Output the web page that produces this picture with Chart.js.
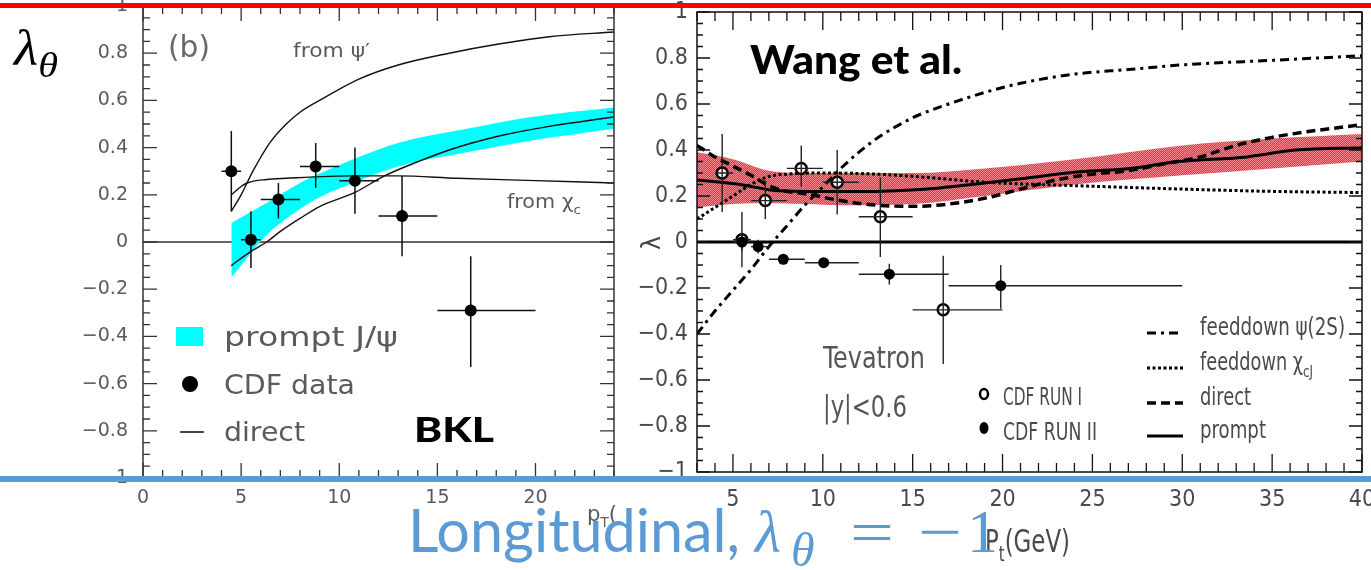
<!DOCTYPE html>
<html>
<head>
<meta charset="utf-8">
<script src="https://cdn.jsdelivr.net/npm/chart.js"></script>
<style>
  html, body { margin: 0; padding: 0; background: #fff; }
  body { width: 1371px; height: 570px; position: relative; overflow: hidden; }
  canvas { position: absolute; left: 0; top: 0; }
  .bar { position: absolute; left: 0; width: 1371px; z-index: 5; }
  #redBar { top: 3px; height: 5px; background: #ff0000; }
  #blueBar { top: 476px; height: 6px; background: #5b9bd5; }
  .txt { position: absolute; white-space: nowrap; transform-origin: 0 0; z-index: 6; }
  .txt sub { font-size: 0.72em; vertical-align: -0.32em; line-height: 0; }
  #lamLabel { left: 14px; top: 23px; font: italic 50px 'Liberation Serif', serif; line-height: 1; color: #000; }
  #wangTitle { left: 750px; top: 39px; font: 900 40px Lato, sans-serif; line-height: 1; color: #000; }
  #bklTitle { left: 414px; top: 411px; font: 900 35px Lato, sans-serif; line-height: 1; color: #000; }
  #longText { left: 408px; top: 499px; font: 60px Lato, sans-serif; line-height: 1; color: #5b9bd5; }
  .m { font: 60px 'Liberation Serif', serif; line-height: 1; color: #5b9bd5; top: 502px; }
  #mLam { left: 755px; font-style: italic; }
  #mTheta { left: 791px; top: 526px; font-size: 48px; font-style: italic; }
  #mEq { left: 850px; }
  #mMinus { left: 918px; }
  #mOne { left: 967px; font-size: 62px; top: 500px; }
</style>
</head>
<body>
<canvas id="bklChart" width="1371" height="570"></canvas>
<canvas id="wangChart" width="1371" height="570"></canvas>
<div id="redBar" class="bar"></div>
<div id="blueBar" class="bar"></div>
<div id="lamLabel" class="txt">λ<sub>θ</sub></div>
<div id="wangTitle" class="txt">Wang et al.</div>
<div id="bklTitle" class="txt">BKL</div>
<div id="longText" class="txt">Longitudinal,</div>
<div id="mLam" class="txt m">λ</div>
<div id="mTheta" class="txt m">θ</div>
<div id="mEq" class="txt m">=</div>
<div id="mMinus" class="txt m">−</div>
<div id="mOne" class="txt m">1</div>
<script>
// ---- left panel (BKL) ----
const bklXTicks = [0, 5, 10, 15, 20];
const yTickValues = [-1, -0.8, -0.6, -0.4, -0.2, 0, 0.2, 0.4, 0.6, 0.8, 1];
const yTickLabels = ['−1', '−0.8', '−0.6', '−0.4', '−0.2', '0', '0.2', '0.4', '0.6', '0.8', '1'];

const cdfX = [4.5, 5.5, 6.9, 8.8, 10.8, 13.2, 16.7];
const cdfY = [0.30, 0.01, 0.18, 0.32, 0.26, 0.11, -0.29];
const cdfXLo = [4, 5, 6, 8, 10, 12, 15];
const cdfXHi = [5, 6, 8, 10, 12, 15, 20];
const cdfYLo = [0.13, -0.11, 0.10, 0.23, 0.12, -0.06, -0.53];
const cdfYHi = [0.47, 0.13, 0.25, 0.42, 0.40, 0.28, -0.06];

const psiPrimeX = [4.5, 5, 5.6, 6.46, 7.3, 8, 9, 11, 13, 15.6, 18.2, 20.7, 24];
const psiPrimeY = [0.13, 0.20, 0.30, 0.42, 0.50, 0.55, 0.60, 0.69, 0.75, 0.80, 0.84, 0.87, 0.89];
const chicX = [4.5, 5, 5.3, 6.3, 7.3, 10.7, 13, 16, 20, 24];
const chicY = [0.20, 0.235, 0.25, 0.265, 0.27, 0.28, 0.28, 0.27, 0.26, 0.25];
const bklDirectX = [4.5, 5.5, 6.3, 7, 8, 9, 10.8, 12.3, 14, 15.6, 18.2, 20.7, 24];
const bklDirectY = [-0.10, -0.04, 0.0, 0.045, 0.10, 0.15, 0.21, 0.28, 0.34, 0.39, 0.45, 0.49, 0.53];
const bklBandX = [4.5, 6.3, 8, 9, 11, 13, 16.5, 19.8, 24];
const bklBandHi = [0.08, 0.165, 0.25, 0.29, 0.36, 0.42, 0.48, 0.53, 0.57];
const bklBandLo = [-0.15, 0.03, 0.14, 0.19, 0.26, 0.32, 0.38, 0.43, 0.48];

// ---- right panel (Wang et al.) ----
const wangXTicks = [5, 10, 15, 20, 25, 30, 35, 40];

const run1X = [4.4, 5.5, 6.8, 8.8, 10.8, 13.2, 16.7];
const run1Y = [0.30, 0.01, 0.18, 0.32, 0.26, 0.11, -0.295];
const run1XLo = [4, 5, 6, 8, 10, 12, 15];
const run1XHi = [5, 6, 8, 10, 12, 15, 20];
const run1YLo = [0.13, -0.11, 0.10, 0.24, 0.12, -0.065, -0.53];
const run1YHi = [0.47, 0.13, 0.27, 0.42, 0.40, 0.28, -0.06];

const run2X = [5.5, 6.4, 7.8, 10.05, 13.7, 19.9];
const run2Y = [0.0, -0.02, -0.075, -0.09, -0.14, -0.19];
const run2XLo = [5, 6, 7, 9, 12, 17];
const run2XHi = [6, 7, 9, 12, 17, 30];
const run2YLo = [-0.04, -0.05, -0.095, -0.11, -0.185, -0.29];
const run2YHi = [0.04, 0.01, -0.055, -0.07, -0.095, -0.10];

const fdPsi2sX = [3, 4, 5, 6, 7, 8, 9, 10, 11, 12, 13, 15, 17, 19, 21, 24, 27, 30, 35, 40];
const fdPsi2sY = [-0.40, -0.30, -0.21, -0.12, -0.02, 0.07, 0.16, 0.24, 0.32, 0.39, 0.45, 0.54, 0.60, 0.65, 0.69, 0.73, 0.75, 0.77, 0.79, 0.81];
const fdChiX = [3, 4, 5, 6, 7, 8, 10, 13, 16, 19, 24, 30, 35, 40];
const fdChiY = [0.10, 0.15, 0.20, 0.25, 0.285, 0.295, 0.30, 0.295, 0.28, 0.26, 0.245, 0.23, 0.22, 0.215];
const wDirectX = [3, 4, 5, 6, 7, 8, 9, 11, 13, 15, 17, 19, 21, 23, 25, 27, 29, 31, 33, 35, 37, 40];
const wDirectY = [0.42, 0.37, 0.33, 0.29, 0.245, 0.22, 0.21, 0.18, 0.16, 0.155, 0.165, 0.19, 0.23, 0.27, 0.295, 0.31, 0.34, 0.37, 0.42, 0.455, 0.48, 0.51];
const promptX = [3, 5.4, 7.2, 9, 10.9, 13, 14.7, 16.5, 18.3, 21, 24.3, 27.1, 29.8, 33.6, 36.3, 40];
const promptY = [0.27, 0.25, 0.225, 0.22, 0.22, 0.22, 0.225, 0.235, 0.25, 0.275, 0.305, 0.32, 0.35, 0.37, 0.40, 0.41];
const wBandX = [3, 5, 7, 9, 11, 15, 19, 24, 30, 35, 40];
const wBandHi = [0.39, 0.36, 0.31, 0.30, 0.30, 0.30, 0.32, 0.36, 0.42, 0.45, 0.47];
const wBandLo = [0.15, 0.165, 0.17, 0.165, 0.16, 0.165, 0.20, 0.25, 0.29, 0.32, 0.35];

const pts = (xs, ys) => xs.map((x, i) => ({ x: x, y: ys[i] }));
const pairs = (lo, hi) => lo.map((v, i) => [v, hi[i]]);

// draws text made of parts (some subscripted), optional squeeze to a width
function drawRich(ctx, x, y, size, family, color, parts, fitW) {
  ctx.save();
  ctx.fillStyle = color;
  ctx.textBaseline = 'alphabetic';
  const fontOf = p => (p.italic ? 'italic ' : '') + Math.round(p.sub ? size * 0.65 : size) + 'px ' + family;
  const widths = parts.map(p => { ctx.font = fontOf(p); return ctx.measureText(p.t).width; });
  const total = widths.reduce((a, b) => a + b, 0);
  ctx.translate(x, y);
  if (fitW) ctx.scale(fitW / total, 1);
  let cx = 0;
  parts.forEach((p, i) => {
    ctx.font = fontOf(p);
    ctx.fillText(p.t, cx, p.sub ? size * 0.28 : 0);
    cx += widths[i];
  });
  ctx.restore();
}

function strokeErrors(chart, ds) {
  const { ctx, scales: { x, y } } = chart;
  ctx.save();
  ctx.strokeStyle = ds.barColor;
  ctx.lineWidth = ds.barWidth;
  ctx.beginPath();
  ds.data.forEach((p, i) => {
    const px = x.getPixelForValue(p.x), py = y.getPixelForValue(p.y);
    ctx.moveTo(x.getPixelForValue(ds.errX[i][0]), py);
    ctx.lineTo(x.getPixelForValue(ds.errX[i][1]), py);
    ctx.moveTo(px, y.getPixelForValue(ds.errY[i][0]));
    ctx.lineTo(px, y.getPixelForValue(ds.errY[i][1]));
  });
  ctx.stroke();
  ctx.restore();
}

const errorBars = {
  id: 'errorBars',
  beforeDatasetDraw(chart, args) {
    const ds = chart.data.datasets[args.index];
    if (ds.errX && !ds.barsOnTop) strokeErrors(chart, ds);
  },
  afterDatasetDraw(chart, args) {
    const ds = chart.data.datasets[args.index];
    if (ds.errX && ds.barsOnTop) strokeErrors(chart, ds);
  }
};

function frameTicks(o) {
  return {
    id: o.id,
    beforeDatasetsDraw(chart) {
      const { ctx, chartArea: a, scales: { y } } = chart;
      const y0 = y.getPixelForValue(0);
      ctx.save();
      ctx.strokeStyle = o.zeroColor;
      ctx.lineWidth = o.zeroWidth;
      ctx.beginPath();
      ctx.moveTo(a.left, y0);
      ctx.lineTo(a.right, y0);
      ctx.stroke();
      ctx.restore();
    },
    afterDatasetsDraw(chart) {
      const { ctx, chartArea: a, scales: { x, y } } = chart;
      ctx.save();
      ctx.strokeStyle = o.color;
      ctx.lineWidth = o.frameWidth;
      ctx.strokeRect(a.left, a.top, a.right - a.left, a.bottom - a.top);
      ctx.lineWidth = o.tickWidth;
      ctx.beginPath();
      for (let i = Math.ceil(x.min / o.xMinor - 1e-6); i * o.xMinor <= x.max + 1e-6; i++) {
        const v = i * o.xMinor;
        const major = Math.abs(v / o.xMajor - Math.round(v / o.xMajor)) < 1e-6;
        const len = major ? o.xMajorLen : o.xMinorLen;
        const px = x.getPixelForValue(v);
        ctx.moveTo(px, a.bottom); ctx.lineTo(px, a.bottom - len);
        ctx.moveTo(px, a.top); ctx.lineTo(px, a.top + len);
      }
      for (let i = Math.ceil(y.min / o.yMinor - 1e-6); i * o.yMinor <= y.max + 1e-6; i++) {
        const v = i * o.yMinor;
        const major = Math.abs(v / o.yMajor - Math.round(v / o.yMajor)) < 1e-6;
        const len = major ? o.yMajorLen : o.yMinorLen;
        const py = y.getPixelForValue(v);
        ctx.moveTo(a.left, py); ctx.lineTo(a.left + len, py);
        ctx.moveTo(a.right, py); ctx.lineTo(a.right - len, py);
      }
      ctx.stroke();
      ctx.restore();
    }
  };
}

function axisOpts(min, max, tickVals, tickLabels, font, color, pad, fitSize, isX) {
  return {
    type: 'linear', min: min, max: max,
    afterBuildTicks: s => { s.ticks = tickVals.map(v => ({ value: v })); },
    afterFit: s => {
      if (isX) s.height = fitSize; else s.width = fitSize;
      s.paddingLeft = s.paddingRight = s.paddingTop = s.paddingBottom = 0;
    },
    grid: { display: false, drawTicks: false },
    border: { display: false },
    ticks: {
      padding: pad, color: color, font: font, maxRotation: 0, autoSkip: false,
      callback: (v, i) => tickLabels ? tickLabels[i] : String(v)
    }
  };
}

// ---------- left chart ----------
const leftFont = "'DejaVu Sans', sans-serif";
const bklNotes = {
  id: 'bklNotes',
  afterDraw(chart) {
    const ctx = chart.ctx;
    const grey = '#5a5a5a';
    drawRich(ctx, 168, 57, 30, leftFont, '#6a6a6a', [{ t: '(b)' }], 42);
    drawRich(ctx, 293, 57, 20, leftFont, grey, [{ t: 'from ψ′' }], 77);
    drawRich(ctx, 507, 208, 20, leftFont, grey, [{ t: 'from χ' }, { t: 'c', sub: true }], 74);
    // legend
    ctx.fillStyle = '#00ffff';
    ctx.fillRect(176, 327, 27, 19);
    ctx.fillStyle = '#000';
    ctx.beginPath(); ctx.arc(190, 384, 8, 0, Math.PI * 2); ctx.fill();
    ctx.strokeStyle = '#444'; ctx.lineWidth = 2;
    ctx.beginPath(); ctx.moveTo(180, 432); ctx.lineTo(204, 432); ctx.stroke();
    drawRich(ctx, 224, 346, 27, leftFont, grey, [{ t: 'prompt J/ψ' }], 174);
    drawRich(ctx, 224, 394, 27, leftFont, grey, [{ t: 'CDF data' }], 131);
    drawRich(ctx, 224, 441, 27, leftFont, grey, [{ t: 'direct' }], 81);
    drawRich(ctx, 587, 521, 22, leftFont, grey, [{ t: 'p' }, { t: 'T', sub: true }, { t: '(' }], 30);
  }
};

new Chart(document.getElementById('bklChart'), {
  type: 'scatter',
  data: {
    datasets: [
      { label: 'CDF data', data: pts(cdfX, cdfY), errX: pairs(cdfXLo, cdfXHi), errY: pairs(cdfYLo, cdfYHi),
        barColor: '#111', barWidth: 1.5, pointRadius: 6, backgroundColor: '#000', borderColor: '#000', borderWidth: 0 },
      { label: 'from psi prime', data: pts(psiPrimeX, psiPrimeY), showLine: true, pointRadius: 0,
        borderColor: '#111', borderWidth: 1.4, cubicInterpolationMode: 'monotone' },
      { label: 'from chi_c', data: pts(chicX, chicY), showLine: true, pointRadius: 0,
        borderColor: '#111', borderWidth: 1.4, cubicInterpolationMode: 'monotone' },
      { label: 'direct', data: pts(bklDirectX, bklDirectY), showLine: true, pointRadius: 0,
        borderColor: '#111', borderWidth: 1.4, cubicInterpolationMode: 'monotone' },
      { label: 'prompt upper', data: pts(bklBandX, bklBandHi), showLine: true, pointRadius: 0,
        borderColor: 'rgba(0,0,0,0)', borderWidth: 0, cubicInterpolationMode: 'monotone', fill: false },
      { label: 'prompt J/psi', data: pts(bklBandX, bklBandLo), showLine: true, pointRadius: 0,
        borderColor: 'rgba(0,0,0,0)', borderWidth: 0, cubicInterpolationMode: 'monotone',
        fill: '-1', backgroundColor: '#00ffff' }
    ]
  },
  options: {
    responsive: false, animation: false, events: [], devicePixelRatio: 1,
    layout: { padding: { left: 83, right: 757, top: 6, bottom: 52 } },
    plugins: { legend: { display: false }, tooltip: { enabled: false } },
    scales: {
      x: axisOpts(0, 24, bklXTicks, null, { family: leftFont, size: 19 }, '#5a5a5a', 9, 40, true),
      y: axisOpts(-1, 1, yTickValues, yTickLabels, { family: leftFont, size: 19 }, '#5a5a5a', 15, 60, false)
    }
  },
  plugins: [errorBars, bklNotes, frameTicks({
    id: 'bklFrame', color: '#333', frameWidth: 1.5, tickWidth: 1.3,
    xMinor: 1, xMajor: 5, xMajorLen: 15, xMinorLen: 8,
    yMinor: 0.05, yMajor: 0.2, yMajorLen: 14, yMinorLen: 7,
    zeroColor: '#333', zeroWidth: 1.3
  })]
});

// ---------- right chart ----------
const rightFont = "'Liberation Sans Narrow', 'DejaVu Sans Condensed', 'Liberation Sans', sans-serif";
const dashPsi = [9, 5, 3, 5];
const dashChi = [3, 2.5];
const dashDirect = [9, 5];

function bandPattern() {
  const c = document.createElement('canvas');
  c.width = 2; c.height = 2;
  const g = c.getContext('2d');
  g.fillStyle = '#ff2a3c'; g.fillRect(0, 0, 2, 2);
  g.fillStyle = '#ff8592'; g.fillRect(0, 0, 1, 1); g.fillRect(1, 1, 1, 1);
  return g.createPattern(c, 'repeat');
}

const wangNotes = {
  id: 'wangNotes',
  afterDraw(chart) {
    const ctx = chart.ctx;
    const grey = '#4a4a4a';
    drawRich(ctx, 823, 368, 31, rightFont, '#555', [{ t: 'Tevatron' }], 102);
    drawRich(ctx, 823, 417, 31, rightFont, '#555', [{ t: '|y|<0.6' }], 84);
    // data legend
    ctx.save();
    ctx.strokeStyle = '#000'; ctx.lineWidth = 2.5; ctx.fillStyle = '#fff';
    ctx.beginPath(); ctx.ellipse(984, 394, 4, 5, 0, 0, Math.PI * 2); ctx.fill(); ctx.stroke();
    ctx.fillStyle = '#000';
    ctx.beginPath(); ctx.ellipse(984, 428, 4.5, 6, 0, 0, Math.PI * 2); ctx.fill();
    ctx.restore();
    drawRich(ctx, 1003, 405, 24, rightFont, grey, [{ t: 'CDF RUN I' }], 79);
    drawRich(ctx, 1003, 440, 24, rightFont, grey, [{ t: 'CDF RUN II' }], 94);
    // curve legend
    const rows = [
      { y: 335, dash: dashPsi, w: 3, parts: [{ t: 'feeddown ψ(2S)' }], fit: 145 },
      { y: 370, dash: dashChi, w: 3, parts: [{ t: 'feeddown χ' }, { t: 'cJ', sub: true }], fit: 113 },
      { y: 405, dash: dashDirect, w: 3.5, parts: [{ t: 'direct' }], fit: 51 },
      { y: 438, dash: [], w: 3, parts: [{ t: 'prompt' }], fit: 66 }
    ];
    rows.forEach(r => {
      ctx.save();
      ctx.strokeStyle = '#000'; ctx.lineWidth = r.w; ctx.setLineDash(r.dash);
      ctx.beginPath(); ctx.moveTo(1147, r.y - 2); ctx.lineTo(1183, r.y - 2); ctx.stroke();
      ctx.restore();
      drawRich(ctx, 1200, r.y, 24, rightFont, grey, r.parts, r.fit);
    });
    drawRich(ctx, 985, 552, 32, rightFont, '#4a4a4a', [{ t: 'P' }, { t: 't', sub: true }, { t: '(GeV)' }], 85);
    // rotated y-axis title
    ctx.save();
    ctx.translate(660, 243);
    ctx.rotate(-Math.PI / 2);
    ctx.fillStyle = '#444';
    ctx.font = '26px ' + rightFont;
    ctx.textAlign = 'center';
    ctx.fillText('λ', 0, 0);
    ctx.restore();
  }
};

new Chart(document.getElementById('wangChart'), {
  type: 'scatter',
  data: {
    datasets: [
      { label: 'CDF RUN II', data: pts(run2X, run2Y), errX: pairs(run2XLo, run2XHi), errY: pairs(run2YLo, run2YHi),
        barColor: '#222', barWidth: 1.4, pointRadius: 5.5, backgroundColor: '#000', borderColor: '#000', borderWidth: 0 },
      { label: 'CDF RUN I', data: pts(run1X, run1Y), errX: pairs(run1XLo, run1XHi), errY: pairs(run1YLo, run1YHi),
        barsOnTop: true, barColor: '#222', barWidth: 1.4, pointRadius: 5.5, pointBorderWidth: 2.5,
        backgroundColor: '#fff', borderColor: '#000' },
      { label: 'prompt', data: pts(promptX, promptY), showLine: true, pointRadius: 0,
        borderColor: '#000', borderWidth: 3, cubicInterpolationMode: 'monotone' },
      { label: 'direct', data: pts(wDirectX, wDirectY), showLine: true, pointRadius: 0,
        borderColor: '#000', borderWidth: 3.5, borderDash: dashDirect, cubicInterpolationMode: 'monotone' },
      { label: 'feeddown chi_cJ', data: pts(fdChiX, fdChiY), showLine: true, pointRadius: 0,
        borderColor: '#000', borderWidth: 3, borderDash: dashChi, cubicInterpolationMode: 'monotone' },
      { label: 'feeddown psi(2S)', data: pts(fdPsi2sX, fdPsi2sY), showLine: true, pointRadius: 0,
        borderColor: '#000', borderWidth: 3, borderDash: dashPsi, cubicInterpolationMode: 'monotone' },
      { label: 'band upper', data: pts(wBandX, wBandHi), showLine: true, pointRadius: 0,
        borderColor: 'rgba(0,0,0,0)', borderWidth: 0, cubicInterpolationMode: 'monotone', fill: false },
      { label: 'band lower', data: pts(wBandX, wBandLo), showLine: true, pointRadius: 0,
        borderColor: 'rgba(0,0,0,0)', borderWidth: 0, cubicInterpolationMode: 'monotone',
        fill: '-1', backgroundColor: bandPattern() }
    ]
  },
  options: {
    responsive: false, animation: false, events: [], devicePixelRatio: 1,
    layout: { padding: { left: 637, right: 9, top: 12, bottom: 48 } },
    plugins: { legend: { display: false }, tooltip: { enabled: false } },
    scales: {
      x: axisOpts(3, 40, wangXTicks, null, { family: rightFont, size: 23 }, '#4a4a4a', 14, 50, true),
      y: axisOpts(-1, 1, yTickValues, yTickLabels, { family: rightFont, size: 23 }, '#4a4a4a', 9, 60, false)
    }
  },
  plugins: [errorBars, wangNotes, frameTicks({
    id: 'wangFrame', color: '#111', frameWidth: 1.5, tickWidth: 1.3,
    xMinor: 1, xMajor: 5, xMajorLen: 18, xMinorLen: 9,
    yMinor: 0.05, yMajor: 0.2, yMajorLen: 13, yMinorLen: 6,
    zeroColor: '#000', zeroWidth: 3
  })]
});

// squeeze the overlay labels to the widths they have in the slide
const fitTargets = { wangTitle: 212, bklTitle: 80, longText: 332, lamLabel: 44, mEq: 44, mMinus: 44 };
function currentScale(el) {
  const m = /scaleX\(([\d.]+)\)/.exec(el.style.transform);
  return m ? parseFloat(m[1]) : 1;
}
function fitAll() {
  Object.keys(fitTargets).forEach(id => {
    const el = document.getElementById(id);
    const w = el.getBoundingClientRect().width / currentScale(el);
    el.style.transform = 'scaleX(' + (fitTargets[id] / w) + ')';
  });
}
fitAll();
if (document.fonts && document.fonts.ready) document.fonts.ready.then(fitAll);
window.addEventListener('load', fitAll);
</script>
</body>
</html>
